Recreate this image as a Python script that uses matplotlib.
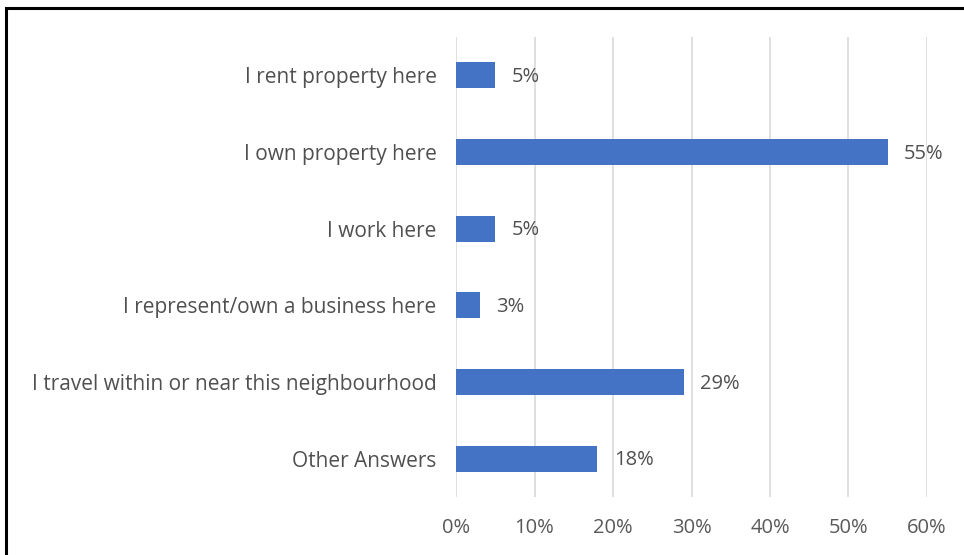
import matplotlib.pyplot as plt
from matplotlib.patches import Rectangle

# Survey answers, top to bottom as shown
categories = [
    "I rent property here",
    "I own property here",
    "I work here",
    "I represent/own a business here",
    "I travel within or near this neighbourhood",
    "Other Answers",
]
shares = [5, 55, 5, 3, 29, 18]
tick_values = [0, 10, 20, 30, 40, 50, 60]

plt.rcParams['font.family'] = ['Open Sans', 'DejaVu Sans']

fig = plt.figure(figsize=(9.64, 5.55), dpi=100)
ax = fig.add_axes([456 / 964, 1 - 497 / 555, 471 / 964, 460 / 555])

ypos = list(range(len(categories)))
ax.barh(ypos, shares, height=0.34, color='#4472C4', zorder=3)
for y, v in zip(ypos, shares):
    ax.text(v + 2.1, y + 0.02, f"{v}%", va='center', ha='left', fontsize=14.5, color='#505050')

ax.set_ylim(len(categories) - 0.5, -0.5)
ax.set_xlim(0, 60)
ax.set_yticks(ypos)
ax.set_yticklabels(categories, fontsize=15, color='#505050')
ax.set_xticks(tick_values)
ax.set_xticklabels([f"{t}%" for t in tick_values], fontsize=14.5, color='#595959')
ax.tick_params(axis='y', length=0, pad=14)
ax.tick_params(axis='x', length=0, pad=15)
ax.grid(axis='x', color='#d9d9d9', linewidth=1.2, zorder=0)
for s in ax.spines.values():
    s.set_visible(False)

# outer frame, only the top and left edges fall inside the image
fig.patches.append(Rectangle((6 / 964, -0.1), 1.2, 1 - 8 / 555 + 0.1,
                             transform=fig.transFigure, fill=False,
                             edgecolor='black', linewidth=2.2))

fig.savefig("out.png", dpi=100)
